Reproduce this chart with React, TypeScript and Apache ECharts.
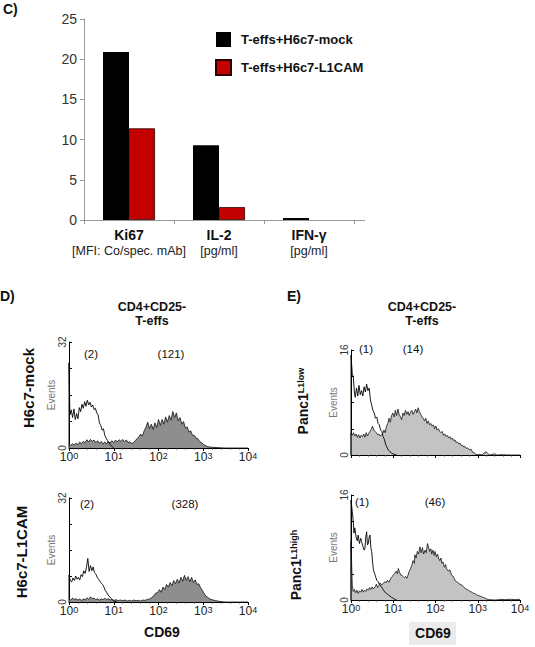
import React, { useEffect, useRef } from 'react';
import * as echarts from 'echarts';

// ---------- Panel C data ----------
const barCategories = ['Ki67', 'IL-2', 'IFN-γ'];
const barUnits = ['[MFI: Co/spec. mAb]', '[pg/ml]', '[pg/ml]'];
const seriesNames = ['T-effs+H6c7-mock', 'T-effs+H6c7-L1CAM'];
const mockValues = [20.9, 9.3, 0.25];
const l1camValues = [11.4, 1.6, 0];

// ---------- Histogram data: [log10 CD69, events] ----------
const dMockFilled = [
  [0, 1.2], [0.04, 0.8], [0.08, 1.3], [0.12, 0.9], [0.16, 1.5], [0.2, 1.0], [0.24, 1.8], [0.28, 1.3], [0.32, 2.0], [0.36, 1.6],
  [0.4, 2.5], [0.44, 1.8], [0.48, 2.6], [0.52, 2.0], [0.56, 2.4], [0.6, 1.6], [0.64, 2.2], [0.68, 1.4], [0.72, 2.0], [0.76, 1.2],
  [0.8, 1.8], [0.84, 1.3], [0.88, 2.0], [0.92, 1.5], [0.96, 2.2], [1.0, 1.6], [1.04, 2.4], [1.08, 1.8], [1.12, 2.5], [1.16, 2.0],
  [1.2, 2.6], [1.24, 1.9], [1.28, 2.4], [1.32, 1.7], [1.36, 1.8], [1.4, 1.4], [1.44, 1.6], [1.48, 2.2], [1.52, 2.8], [1.56, 3.4],
  [1.6, 4.2], [1.64, 3.6], [1.68, 5.2], [1.72, 6.3], [1.76, 7.8], [1.8, 5.8], [1.84, 7.2], [1.88, 5.6], [1.92, 7.6], [1.96, 6.2],
  [2.0, 8.6], [2.04, 6.8], [2.08, 8.6], [2.12, 7.2], [2.16, 9.4], [2.2, 7.8], [2.24, 9.8], [2.28, 8.4], [2.32, 11.0], [2.36, 9.2],
  [2.4, 10.6], [2.44, 8.2], [2.48, 9.2], [2.52, 7.2], [2.56, 8.0], [2.6, 6.0], [2.64, 6.4], [2.68, 4.8], [2.72, 5.2], [2.76, 3.8],
  [2.8, 3.8], [2.84, 3.0], [2.88, 2.8], [2.92, 1.9], [2.96, 1.7], [3.0, 1.1], [3.04, 0.8], [3.08, 0.5], [3.14, 0.3], [3.2, 0.2],
  [3.3, 0.15], [3.4, 0.05], [3.5, 0], [4, 0],
];
const dMockOpen = [
  [0, 0], [0, 25.7], [0.02, 10], [0.05, 11.5], [0.08, 9.2], [0.11, 11.8], [0.14, 8.6], [0.17, 10.4], [0.2, 8.8], [0.23, 12.2],
  [0.26, 11.0], [0.29, 13.2], [0.32, 12.0], [0.35, 14.0], [0.38, 12.6], [0.41, 14.4], [0.44, 13.0], [0.47, 13.8], [0.5, 12.4],
  [0.53, 13.0], [0.56, 11.6], [0.59, 12.0], [0.62, 10.6], [0.65, 10.0], [0.68, 7.6], [0.71, 6.8], [0.74, 5.4], [0.77, 5.8],
  [0.8, 3.8], [0.83, 3.0], [0.86, 2.2], [0.89, 1.6], [0.92, 1.0], [0.95, 0.6], [0.98, 0.2], [1.0, 0],
];
const dL1camFilled = [
  [0, 1.0], [0.04, 0.6], [0.08, 1.2], [0.12, 0.8], [0.16, 1.0], [0.2, 0.6], [0.24, 0.9], [0.28, 0.5], [0.32, 0.9], [0.36, 0.7],
  [0.4, 1.3], [0.44, 0.8], [0.48, 1.6], [0.52, 1.0], [0.56, 1.2], [0.6, 0.7], [0.64, 1.0], [0.68, 0.6], [0.72, 1.0], [0.76, 0.7],
  [0.8, 1.1], [0.84, 0.8], [0.88, 1.0], [0.92, 0.6], [0.96, 0.8], [1.0, 0.5], [1.05, 0.7], [1.1, 0.4], [1.15, 0.6], [1.2, 0.4],
  [1.25, 0.6], [1.3, 0.3], [1.35, 0.5], [1.4, 0.3], [1.45, 0.6], [1.5, 0.4], [1.55, 0.5], [1.6, 0.3], [1.65, 0.6], [1.7, 0.5],
  [1.75, 0.8], [1.8, 0.9], [1.85, 1.4], [1.9, 2.0], [1.94, 2.8], [1.98, 2.8], [2.02, 3.8], [2.06, 3.0], [2.1, 4.6], [2.14, 3.8],
  [2.18, 5.4], [2.22, 4.6], [2.26, 6.0], [2.3, 5.0], [2.34, 6.6], [2.38, 5.6], [2.42, 7.0], [2.46, 5.8], [2.5, 7.6], [2.54, 6.4],
  [2.58, 8.2], [2.62, 6.6], [2.66, 7.8], [2.7, 6.2], [2.74, 7.6], [2.78, 6.0], [2.82, 6.8], [2.86, 5.4], [2.9, 5.6], [2.94, 4.4],
  [2.98, 3.6], [3.02, 2.6], [3.06, 1.8], [3.1, 1.4], [3.15, 0.9], [3.2, 0.7], [3.28, 0.4], [3.36, 0.2], [3.45, 0.05], [3.5, 0], [4, 0],
];
const dL1camOpen = [
  [0, 0], [0, 8.3], [0.03, 6.5], [0.06, 6.2], [0.09, 7.4], [0.12, 6.6], [0.15, 8.0], [0.18, 7.0], [0.21, 7.6], [0.24, 6.8],
  [0.27, 8.4], [0.3, 7.8], [0.33, 9.6], [0.36, 8.8], [0.39, 10.6], [0.42, 13.4], [0.45, 9.4], [0.48, 11.2], [0.51, 9.6],
  [0.54, 10.8], [0.57, 9.0], [0.6, 8.6], [0.63, 7.6], [0.66, 7.0], [0.69, 6.4], [0.72, 5.8], [0.75, 5.4], [0.78, 4.6],
  [0.81, 3.6], [0.84, 3.0], [0.87, 2.2], [0.9, 1.8], [0.93, 1.2], [0.96, 0.8], [0.99, 0.4], [1.03, 0.2], [1.07, 0],
];
const eLowFilled = [
  [0, 0], [0, 3.3], [0.03, 3.0], [0.06, 3.4], [0.09, 2.9], [0.12, 3.2], [0.15, 2.7], [0.18, 3.1], [0.21, 2.6], [0.24, 3.0],
  [0.27, 2.8], [0.3, 3.2], [0.33, 2.7], [0.36, 3.4], [0.39, 2.9], [0.42, 3.3], [0.45, 3.6], [0.48, 3.9], [0.51, 4.4], [0.54, 3.8],
  [0.57, 3.6], [0.6, 3.4], [0.63, 3.1], [0.66, 3.2], [0.69, 2.9], [0.72, 3.0], [0.75, 3.3], [0.78, 3.8], [0.81, 3.4], [0.84, 4.4],
  [0.87, 4.8], [0.9, 5.6], [0.93, 5.0], [0.96, 6.0], [0.99, 6.4], [1.02, 5.8], [1.05, 6.8], [1.08, 6.0], [1.11, 7.0], [1.14, 6.2],
  [1.17, 5.8], [1.2, 5.4], [1.23, 6.4], [1.26, 6.0], [1.29, 6.8], [1.32, 6.2], [1.35, 6.6], [1.38, 6.0], [1.41, 6.6], [1.44, 6.8],
  [1.47, 6.2], [1.5, 6.6], [1.53, 7.0], [1.56, 6.4], [1.59, 7.2], [1.62, 6.6], [1.65, 6.2], [1.68, 5.8], [1.71, 5.6], [1.74, 5.2],
  [1.77, 5.6], [1.8, 4.8], [1.83, 5.2], [1.86, 4.6], [1.89, 4.8], [1.92, 4.4], [1.95, 4.6], [1.98, 4.0], [2.01, 4.4], [2.04, 3.8],
  [2.07, 4.0], [2.1, 3.6], [2.13, 3.4], [2.16, 3.6], [2.19, 3.0], [2.22, 3.2], [2.25, 2.8], [2.28, 3.0], [2.31, 2.6], [2.34, 2.8],
  [2.37, 2.4], [2.4, 2.6], [2.43, 2.2], [2.46, 2.3], [2.49, 1.9], [2.52, 2.0], [2.55, 1.7], [2.58, 1.8], [2.61, 1.4], [2.64, 1.5],
  [2.67, 1.2], [2.7, 1.3], [2.73, 1.0], [2.76, 1.1], [2.8, 0.8], [2.84, 0.9], [2.88, 0.4], [2.92, 0.3], [2.96, 0.1], [3.0, 0.05],
  [3.05, 0.1], [3.1, 0.0], [3.15, 0.3], [3.2, 0.5], [3.24, 0.2], [3.28, 0], [3.35, 0.1], [3.4, 0.2], [3.45, 0], [3.6, 0.05], [3.7, 0], [4, 0],
];
const eLowOpen = [
  [0, 0], [0, 15.2], [0.03, 12.4], [0.055, 11.9], [0.08, 9.6], [0.1, 8.8], [0.13, 10.2], [0.16, 9.0], [0.19, 10.6], [0.22, 9.2],
  [0.25, 9.8], [0.28, 9.0], [0.31, 10.4], [0.34, 9.6], [0.37, 10.8], [0.4, 9.8], [0.43, 10.2], [0.46, 8.4], [0.49, 7.6],
  [0.52, 6.8], [0.55, 6.4], [0.58, 5.6], [0.61, 5.8], [0.64, 4.8], [0.67, 4.6], [0.7, 3.8], [0.73, 3.6], [0.76, 2.8],
  [0.79, 2.4], [0.82, 1.6], [0.85, 1.2], [0.88, 0.8], [0.92, 0.5], [0.96, 0.3], [1.0, 0.15], [1.08, 0],
];
const eHighFilled = [
  [0, 0], [0, 8.9], [0.03, 2.2], [0.055, 1.3], [0.08, 1.6], [0.11, 1.1], [0.14, 1.5], [0.17, 1.0], [0.2, 1.4], [0.23, 1.2],
  [0.26, 1.6], [0.29, 1.2], [0.32, 1.5], [0.35, 1.3], [0.38, 1.7], [0.41, 1.5], [0.44, 1.9], [0.47, 1.6], [0.5, 2.0], [0.53, 1.7],
  [0.57, 2.0], [0.6, 2.4], [0.63, 1.9], [0.66, 2.2], [0.69, 2.6], [0.73, 2.3], [0.76, 2.5], [0.8, 2.8], [0.83, 2.6], [0.86, 3.0],
  [0.9, 2.7], [0.92, 3.0], [0.95, 3.4], [0.98, 3.6], [1.01, 3.9], [1.04, 4.1], [1.07, 4.4], [1.1, 4.0], [1.12, 4.8], [1.15, 4.2],
  [1.18, 3.8], [1.2, 3.8], [1.23, 3.6], [1.26, 3.4], [1.29, 3.6], [1.32, 3.3], [1.35, 3.8], [1.38, 4.4], [1.41, 4.8], [1.44, 5.3],
  [1.47, 6.0], [1.5, 5.6], [1.51, 6.9], [1.54, 6.4], [1.57, 7.4], [1.6, 7.0], [1.63, 8.1], [1.66, 7.2], [1.69, 8.0], [1.72, 7.0],
  [1.75, 7.6], [1.78, 7.2], [1.81, 8.6], [1.83, 8.2], [1.86, 7.4], [1.89, 7.8], [1.91, 7.0], [1.94, 7.6], [1.97, 6.8], [1.99, 7.4],
  [2.02, 6.6], [2.05, 7.0], [2.07, 6.4], [2.1, 6.0], [2.13, 6.4], [2.15, 5.6], [2.18, 5.8], [2.21, 5.0], [2.24, 5.4], [2.26, 4.8],
  [2.3, 4.4], [2.34, 4.6], [2.38, 3.8], [2.42, 3.6], [2.46, 3.0], [2.5, 2.8], [2.54, 2.6], [2.58, 2.4], [2.62, 2.3], [2.66, 2.0],
  [2.7, 1.8], [2.74, 1.6], [2.78, 1.5], [2.82, 1.3], [2.86, 1.2], [2.9, 1.0], [2.93, 1.0], [2.97, 0.8], [3.01, 0.7], [3.05, 0.6],
  [3.09, 0.5], [3.13, 0.4], [3.17, 0.3], [3.21, 0.15], [3.28, 0.05], [3.41, 0], [3.5, 0.05], [3.57, 0.1], [3.65, 0.05],
  [3.72, 0.1], [3.8, 0.1], [3.88, 0.05], [3.96, 0.1], [4, 0.1],
];
const eHighOpen = [
  [0, 0], [0, 15.2], [0.03, 13.5], [0.055, 11.9], [0.07, 10.2], [0.09, 11.0], [0.12, 9.6], [0.15, 9.0], [0.17, 9.9], [0.2, 8.6],
  [0.23, 9.4], [0.25, 8.9], [0.28, 8.2], [0.31, 7.6], [0.33, 7.9], [0.35, 9.6], [0.37, 10.4], [0.39, 8.4], [0.41, 8.6],
  [0.43, 9.6], [0.45, 9.9], [0.47, 8.0], [0.49, 7.4], [0.51, 5.8], [0.53, 4.6], [0.56, 4.0], [0.59, 3.4], [0.61, 3.0],
  [0.64, 2.8], [0.67, 2.4], [0.69, 2.3], [0.72, 2.0], [0.75, 1.7], [0.77, 1.5], [0.8, 1.2], [0.84, 1.0], [0.88, 0.8],
  [0.92, 0.6], [0.96, 0.4], [1.0, 0.25], [1.08, 0],
];

const countLabels = [
  ['(2)', '(121)'],
  ['(1)', '(14)'],
  ['(2)', '(328)'],
  ['(1)', '(46)'],
];
const rowLabels = ['H6c7-mock', 'H6c7-L1CAM'];
const panelTitle = ['CD4+CD25-', 'T-effs'];
const histMax = [32, 16, 32, 16];

const FONT = '"Liberation Sans", Arial, Helvetica, sans-serif';

export default function App() {
  const ref = useRef<HTMLDivElement>(null);

  useEffect(() => {
    if (!ref.current) return;
    const chart = echarts.init(ref.current, undefined, { renderer: 'svg' });

    const histGrids = [
      { left: 69, top: 342, width: 179, height: 106 },
      { left: 351, top: 350, width: 169, height: 105 },
      { left: 69, top: 498, width: 179, height: 104 },
      { left: 351, top: 495, width: 169, height: 105 },
    ];

    const histX = (i: number, showLabels: boolean) => ({
      type: 'value',
      gridIndex: i + 1,
      min: 0,
      max: 4,
      interval: 1,
      axisLine: { show: true, lineStyle: { color: '#000', width: 1 } },
      axisTick: { show: true, length: 3, lineStyle: { color: '#000' } },
      minorTick: { show: true, splitNumber: 5, length: 1.5, lineStyle: { color: '#333' } },
      splitLine: { show: false },
      axisLabel: {
        show: showLabels,
        margin: 3,
        formatter: (v: number) => `{b|10}{s|${v}}`,
        rich: {
          b: { fontSize: 12, color: '#222', fontFamily: FONT },
          s: { fontSize: 9, color: '#222', fontFamily: FONT, verticalAlign: 'top' },
        },
      },
    });

    const histY = (i: number) => ({
      type: 'value',
      gridIndex: i + 1,
      min: 0,
      max: histMax[i],
      interval: histMax[i] / 4,
      axisLine: { show: true, lineStyle: { color: '#000', width: 1 } },
      axisTick: { show: true, inside: true, length: 3, lineStyle: { color: '#000' } },
      splitLine: { show: false },
      axisLabel: {
        rotate: 90,
        margin: 2,
        fontSize: 10,
        color: '#333',
        fontFamily: FONT,
        formatter: (v: number) => (v === 0 || v === histMax[i] ? String(v) : ''),
      },
      name: 'Events',
      nameLocation: 'middle',
      nameRotate: 90,
      nameGap: 9,
      nameTextStyle: { color: '#777', fontSize: 10, fontFamily: FONT },
    });

    const histSets = [
      { filled: dMockFilled, open: dMockOpen, fill: '#8e8e8e' },
      { filled: eLowFilled, open: eLowOpen, fill: '#c3c3c3' },
      { filled: dL1camFilled, open: dL1camOpen, fill: '#8e8e8e' },
      { filled: eHighFilled, open: eHighOpen, fill: '#c3c3c3' },
    ];

    const histSeries: any[] = [];
    histSets.forEach((h, i) => {
      histSeries.push({
        type: 'line',
        xAxisIndex: i + 1,
        yAxisIndex: i + 1,
        data: h.filled,
        symbol: 'none',
        lineStyle: { color: '#111', width: 0.8 },
        areaStyle: { color: h.fill, opacity: 1 },
        z: 2,
      });
      histSeries.push({
        type: 'line',
        xAxisIndex: i + 1,
        yAxisIndex: i + 1,
        data: h.open,
        symbol: 'none',
        lineStyle: { color: '#000', width: 0.9 },
        z: 3,
      });
    });

    const txt = (text: string, x: number, y: number, opts: any = {}) => ({
      type: 'text',
      x,
      y,
      rotation: opts.rotation || 0,
      style: {
        text,
        fontFamily: FONT,
        fontSize: opts.fontSize || 12,
        fontWeight: opts.bold ? 'bold' : 'normal',
        fill: opts.color || '#111',
        align: opts.align || 'center',
        verticalAlign: 'middle',
        rich: opts.rich,
      },
      z: 10,
    });

    const supRich = {
      s: { fontSize: 9, fontWeight: 'bold', fontFamily: FONT, fill: '#111', verticalAlign: 'top' },
    };

    const graphics: any[] = [
      txt('C)', 3, 9, { bold: true, fontSize: 14, align: 'left' }),
      txt('D)', 0, 296, { bold: true, fontSize: 14, align: 'left' }),
      txt('E)', 287, 296, { bold: true, fontSize: 14, align: 'left' }),
      txt(panelTitle[0], 152, 307, { bold: true, fontSize: 12.5 }),
      txt(panelTitle[1], 152, 321, { bold: true, fontSize: 12.5 }),
      txt(panelTitle[0], 422, 307, { bold: true, fontSize: 12.5 }),
      txt(panelTitle[1], 422, 321, { bold: true, fontSize: 12.5 }),
      txt(rowLabels[0], 28, 388, { bold: true, fontSize: 15, rotation: Math.PI / 2 }),
      txt(rowLabels[1], 21, 552, { bold: true, fontSize: 15, rotation: Math.PI / 2 }),
      txt('Panc1{s|L1low}', 303, 401, { bold: true, fontSize: 14, rotation: Math.PI / 2, rich: supRich }),
      txt('Panc1{s|L1high}', 296, 565, { bold: true, fontSize: 14, rotation: Math.PI / 2, rich: supRich }),
      txt(countLabels[0][0], 91, 354, { fontSize: 11.5 }),
      txt(countLabels[0][1], 171, 354, { fontSize: 11.5 }),
      txt(countLabels[1][0], 366, 349, { fontSize: 11.5 }),
      txt(countLabels[1][1], 413, 349, { fontSize: 11.5 }),
      txt(countLabels[2][0], 87, 504, { fontSize: 11.5 }),
      txt(countLabels[2][1], 185, 504, { fontSize: 11.5 }),
      txt(countLabels[3][0], 362, 502, { fontSize: 11.5 }),
      txt(countLabels[3][1], 435, 502, { fontSize: 11.5 }),
      {
        type: 'rect',
        shape: { x: 409, y: 622, width: 47, height: 23 },
        style: { fill: '#ebebeb' },
        z: 1,
      },
      txt('CD69', 162, 632, { bold: true, fontSize: 14 }),
      txt('CD69', 433, 633, { bold: true, fontSize: 14 }),
      {
        type: 'line',
        shape: { x1: 354, y1: 220.5, x2: 365, y2: 220.5 },
        style: { stroke: '#999', lineWidth: 1 },
        z: 5,
      },
    ];

    const option: any = {
      animation: false,
      backgroundColor: '#fff',
      textStyle: { fontFamily: FONT },
      grid: [{ left: 84, top: 19, width: 270, height: 201 }, ...histGrids],
      legend: {
        data: seriesNames,
        orient: 'vertical',
        left: 215,
        top: 32,
        padding: 0,
        itemWidth: 15,
        itemHeight: 15,
        itemGap: 12,
        icon: 'rect',
        textStyle: { fontSize: 13, fontWeight: 'bold', color: '#111', fontFamily: FONT, padding: [0, 0, 0, 5] },
      },
      xAxis: [
        {
          type: 'category',
          gridIndex: 0,
          data: barCategories,
          axisLine: { show: true, lineStyle: { color: '#999', width: 1 } },
          axisTick: { show: true, length: 4, lineStyle: { color: '#999' } },
          axisLabel: {
            interval: 0,
            hideOverlap: false,
            margin: 7,
            formatter: (v: string, idx: number) => `{b|${v}}\n{u|${barUnits[idx]}}`,
            rich: {
              b: { fontSize: 14, fontWeight: 'bold', color: '#111', lineHeight: 16, fontFamily: FONT },
              u: { fontSize: 12.5, color: '#222', lineHeight: 16, fontFamily: FONT },
            },
          },
        },
        histX(0, true),
        histX(1, false),
        histX(2, true),
        histX(3, true),
      ],
      yAxis: [
        {
          type: 'value',
          gridIndex: 0,
          min: 0,
          max: 25,
          interval: 5,
          axisLine: { show: true, lineStyle: { color: '#999', width: 1 } },
          axisTick: { show: true, length: 4, lineStyle: { color: '#999' } },
          splitLine: { show: false },
          axisLabel: { fontSize: 14, color: '#333', margin: 7, fontFamily: FONT },
        },
        histY(0),
        histY(1),
        histY(2),
        histY(3),
      ],
      series: [
        {
          name: seriesNames[0],
          type: 'bar',
          xAxisIndex: 0,
          yAxisIndex: 0,
          data: mockValues,
          barWidth: 26,
          barGap: '0%',
          itemStyle: { color: '#000' },
        },
        {
          name: seriesNames[1],
          type: 'bar',
          xAxisIndex: 0,
          yAxisIndex: 0,
          data: l1camValues.map((v) => ({ value: v, itemStyle: v === 0 ? { borderWidth: 0 } : {} })),
          barWidth: 26,
          barGap: '0%',
          itemStyle: { color: '#c20000', borderColor: '#2a0000', borderWidth: 0.8 },
        },
        ...histSeries,
      ],
      graphic: graphics,
    };

    chart.setOption(option);
    return () => chart.dispose();
  }, []);

  return (
    <div
      ref={ref}
      style={{ position: 'absolute', left: 0, top: 0, width: 535, height: 647, background: '#fff' }}
    />
  );
}
